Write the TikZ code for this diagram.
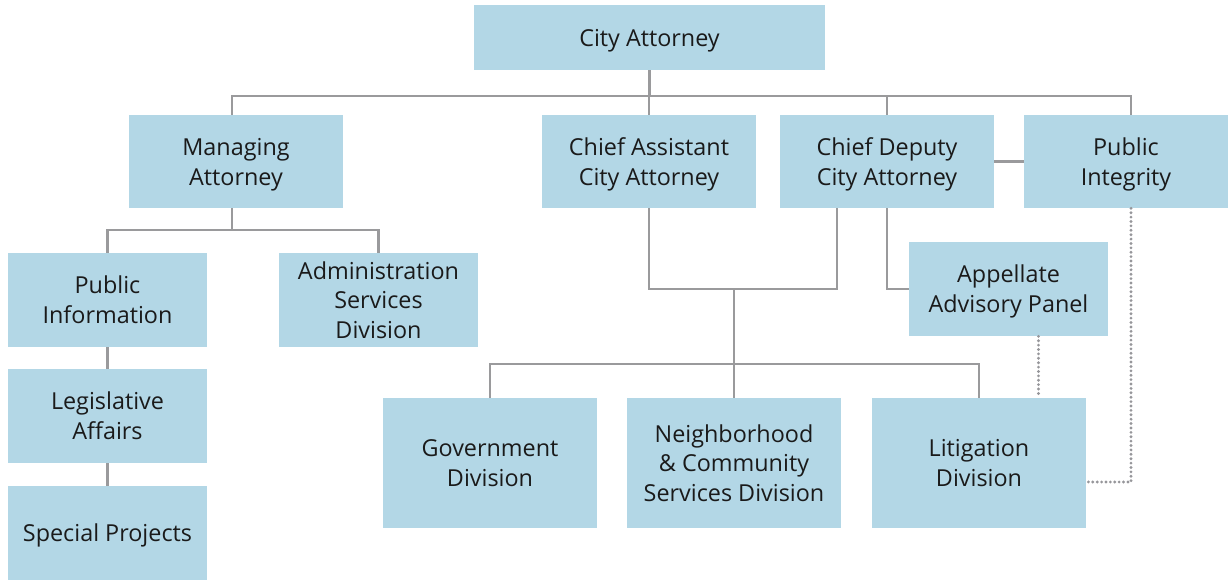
\documentclass[tikz,border=0pt]{standalone}
\usepackage{fontspec}
\setmainfont{Open Sans}
\usepackage{tikz}
\usetikzlibrary{calc, positioning}

\definecolor{boxblue}{HTML}{B3D7E6}
\definecolor{linegray}{HTML}{9A9A9C}
\definecolor{dotgray}{HTML}{96969A}
\definecolor{inkgray}{HTML}{1A1A1A}

\tikzset{
  box/.style={fill=boxblue, text=inkgray, align=center, inner sep=0pt,
    minimum width=4.28cm, minimum height=1.86cm, text depth=-2.8pt,
    font=\fontsize{13.3pt}{17pt}\selectfont},
  link/.style={draw=linegray, line width=1.6pt},
  dotlink/.style={draw=dotgray, line width=1.8pt, line cap=round,
    dash pattern=on 0pt off 2.5pt},
}

\begin{document}
\begin{tikzpicture}[x=0.02cm, y=-0.02cm]
        \useasboundingbox (0,0) rectangle (1228,580);
        % top row
        \node[box, minimum width=7.02cm, minimum height=1.3cm] (ca) at (649.5, 37.5) {City Attorney};
        \node[box] (ma) at (236, 161.5) {Managing\\Attorney};
        \node[box] (cac) at (649, 161.5) {Chief Assistant\\City Attorney};
        \node[box] (cd) at (887, 161.5) {Chief Deputy\\City Attorney};
        \node[box, minimum width=4.08cm] (pint) at (1126, 161.5) {Public\\Integrity};
        % left column
        \node[box, minimum width=3.98cm, minimum height=1.88cm] (pinf) at (107.5, 300) {Public\\Information};
        \node[box, minimum width=3.98cm, minimum height=1.88cm] (asd) at (378.5, 300) {Administration\\Services\\Division};
        \node[box, minimum width=3.98cm, minimum height=1.88cm] (la) at (107.5, 416) {Legislative\\Affairs};
        \node[box, minimum width=3.98cm, minimum height=1.88cm] (sp) at (107.5, 533) {Special Projects};
        \node[box, minimum width=3.98cm, minimum height=1.88cm] (app) at (1008.5, 289) {Appellate\\Advisory Panel};
        % divisions
        \node[box, minimum height=2.6cm] (gov) at (490, 463) {Government\\Division};
        \node[box, minimum height=2.6cm] (nbh) at (734, 463) {Neighborhood\\\& Community\\Services Division};
        \node[box, minimum height=2.6cm] (lit) at (979, 463) {Litigation\\Division};

        \coordinate (topbus) at (0, 96);
        \coordinate (mabus) at (0, 230);
        \coordinate (midbus) at (0, 289);
        \coordinate (divbus) at (0, 364);

        % solid links
        \draw[link] (ca.south) -- (ca.south |- topbus);
        \draw[link] ([xshift=-0.08cm]ma.north) -- ([xshift=-0.08cm]ma.north |- topbus) -- ([xshift=0.1cm]pint.north |- topbus) -- ([xshift=0.1cm]pint.north);
        \foreach \who in {cac, cd}{
            \draw[link] (\who.north) -- (\who.north |- topbus);
          }
        \draw[link] (cd.east) -- (pint.west);
        \draw[link] ([xshift=-0.08cm]ma.south) -- ([xshift=-0.08cm]ma.south |- mabus);
        \draw[link] (pinf.north) -- (pinf.north |- mabus) -- (asd.north |- mabus) -- (asd.north);
        \draw[link] (pinf.south) -- (la.north);
        \draw[link] (la.south) -- (sp.north);
        \draw[link] (cac.south) -- (cac.south |- midbus) -- ([xshift=-1cm]cd.south |- midbus) -- ([xshift=-1cm]cd.south);
        \draw[link] (cd.south) |- (app.west);
        \draw[link] (nbh.north) -- (nbh.north |- midbus);
        \draw[link] (gov.north) -- (gov.north |- divbus) -- (lit.north |- divbus) -- (lit.north);
        % dotted links
        \draw[dotlink] ([xshift=0.6cm]app.south) -- ([xshift=0.6cm]app.south |- lit.north);
        \draw[dotlink] ([xshift=0.1cm]pint.south) |- ([yshift=-0.38cm]lit.east);
      \end{tikzpicture}
\end{document}
